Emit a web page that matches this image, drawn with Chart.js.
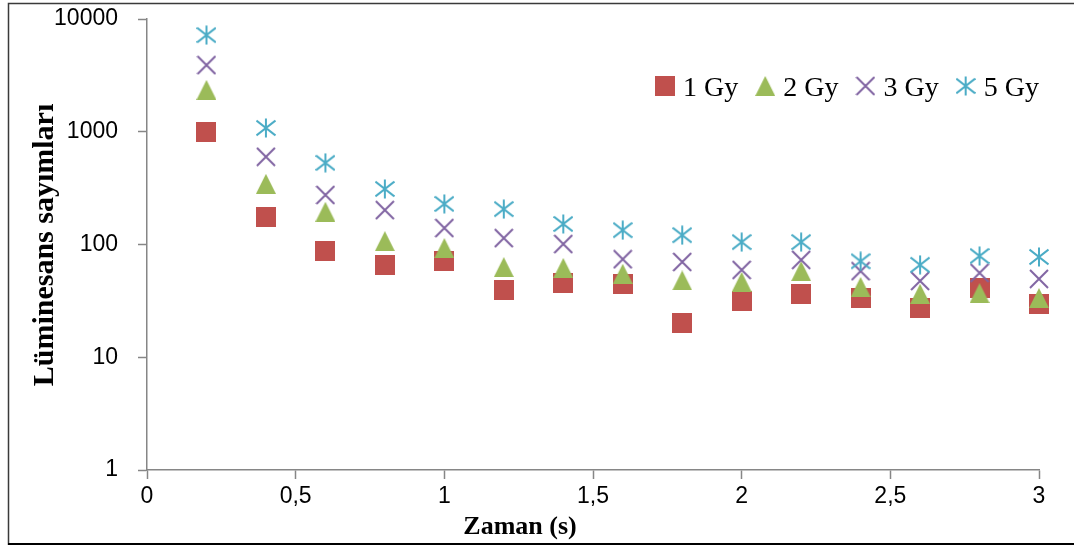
<!DOCTYPE html>
<html>
<head>
<meta charset="utf-8">
<title>Lüminesans sayımları</title>
<script src="https://cdn.jsdelivr.net/npm/chart.js@4/dist/chart.umd.min.js"></script>
<style>
  html, body { margin: 0; padding: 0; background: #fff; }
  #wrap { width: 1074px; height: 546px; position: relative; }
</style>
</head>
<body>
<div id="wrap"><canvas id="chart" width="1074" height="546"></canvas></div>
<script>
// Time (s) and counts per dose
const xValues = [0.2, 0.4, 0.6, 0.8, 1.0, 1.2, 1.4, 1.6, 1.8, 2.0, 2.2, 2.4, 2.6, 2.8, 3.0];
const gy1 = [1000, 175, 88, 66, 71, 39.5, 45.5, 44.5, 20, 31.5, 36.5, 33.5, 27.5, 41, 29.5];
const gy2 = [2350, 345, 195, 107, 93, 63, 62, 55, 48, 46.5, 58, 42, 36.5, 37, 33.5];
const gy3 = [3900, 600, 275, 202, 140, 114, 101, 74, 70, 59.5, 73, 58, 47.5, 56, 49.5];
const gy5 = [7200, 1080, 530, 311, 229, 206, 152, 134, 121, 105, 105, 71, 66, 79, 77.5];
const seriesLabels = ['1 Gy', '2 Gy', '3 Gy', '5 Gy'];
const yTicks = [1, 10, 100, 1000, 10000];
const xTickStep = 0.5;

const colors = ['#C0504D', '#9BBB59', '#8064A2', '#4BACC6'];
const axisColor = '#868686';

// marker sprites, used both on the plot and in the legend
function makeMarker(draw) {
  const c = document.createElement('canvas');
  c.width = 20;
  c.height = 20;
  draw(c.getContext('2d'));
  return c;
}

const squareMarker = makeMarker(ctx => {
  ctx.fillStyle = colors[0];
  ctx.fillRect(0, 0, 20, 20);
});

const triangleMarker = makeMarker(ctx => {
  ctx.fillStyle = colors[1];
  ctx.beginPath();
  ctx.moveTo(10, 0);
  ctx.lineTo(20, 20);
  ctx.lineTo(0, 20);
  ctx.closePath();
  ctx.fill();
});

const crossMarker = makeMarker(ctx => {
  ctx.strokeStyle = colors[2];
  ctx.lineWidth = 2;
  ctx.beginPath();
  ctx.moveTo(1, 1); ctx.lineTo(19, 19);
  ctx.moveTo(19, 1); ctx.lineTo(1, 19);
  ctx.stroke();
});

const starMarker = makeMarker(ctx => {
  ctx.strokeStyle = colors[3];
  ctx.lineWidth = 2;
  ctx.beginPath();
  ctx.moveTo(10, 0.5); ctx.lineTo(10, 19.5);
  ctx.moveTo(0.5, 2.5); ctx.lineTo(19.5, 17.5);
  ctx.moveTo(19.5, 2.5); ctx.lineTo(0.5, 17.5);
  ctx.stroke();
});

const markers = [squareMarker, triangleMarker, crossMarker, starMarker];
const series = [gy1, gy2, gy3, gy5];

function toPoints(values) {
  return values.map((v, i) => ({ x: xValues[i], y: v }));
}

// outer frame around the whole figure
const framePlugin = {
  id: 'frame',
  afterDraw(chart) {
    const ctx = chart.ctx;
    ctx.save();
    ctx.strokeStyle = '#3a3a3a';
    ctx.lineWidth = 1.5;
    ctx.beginPath();
    ctx.moveTo(8.5, 545);
    ctx.lineTo(8.5, 3.5);
    ctx.lineTo(1074, 3.5);
    ctx.stroke();
    ctx.strokeStyle = '#000';
    ctx.lineWidth = 2;
    ctx.beginPath();
    ctx.moveTo(8, 544);
    ctx.lineTo(1074, 544);
    ctx.stroke();
    ctx.restore();
  }
};

// axis titles
const titlesPlugin = {
  id: 'axisTitles',
  afterDraw(chart) {
    const ctx = chart.ctx;
    ctx.save();
    ctx.fillStyle = '#000';
    ctx.textAlign = 'center';
    ctx.textBaseline = 'middle';
    ctx.font = 'bold 26px "Liberation Serif", "Times New Roman", serif';
    ctx.fillText('Zaman (s)', 520, 527);
    ctx.translate(45, 245);
    ctx.rotate(-Math.PI / 2);
    ctx.font = 'bold 30px "Liberation Serif", "Times New Roman", serif';
    ctx.fillText('Lüminesans sayımları', 0, 0);
    ctx.restore();
  }
};

// legend drawn inside the plot, top right
const legendPlugin = {
  id: 'insideLegend',
  afterDraw(chart) {
    const ctx = chart.ctx;
    ctx.save();
    ctx.font = '28px "Liberation Serif", "Times New Roman", serif';
    ctx.fillStyle = '#000';
    ctx.textBaseline = 'alphabetic';
    let x = 655;
    const yMid = 86;
    chart.data.datasets.forEach((ds, i) => {
      ctx.drawImage(markers[i], x, yMid - 10);
      ctx.fillText(ds.label, x + 28, yMid + 10);
      x += 28 + ctx.measureText(ds.label).width + 17;
    });
    ctx.restore();
  }
};

new Chart(document.getElementById('chart'), {
  type: 'scatter',
  data: {
    datasets: series.map((vals, i) => ({
      label: seriesLabels[i],
      data: toPoints(vals),
      pointStyle: markers[i],
      pointRadius: 10,
      order: series.length - i,
      clip: false,
      showLine: false
    }))
  },
  options: {
    responsive: false,
    animation: false,
    events: [],
    layout: { padding: { left: 0, top: 19, right: 35, bottom: 0 } },
    plugins: {
      legend: { display: false },
      tooltip: { enabled: false }
    },
    scales: {
      x: {
        type: 'linear',
        min: 0,
        max: 3,
        afterFit(scale) { scale.height = 76; },
        border: { display: true, color: axisColor, width: 1.5 },
        grid: { drawOnChartArea: false, drawTicks: true, tickLength: 9, color: axisColor, tickWidth: 1.5 },
        ticks: {
          stepSize: xTickStep,
          padding: 4,
          color: '#000',
          font: { family: '"Liberation Sans", Arial, sans-serif', size: 23 },
          callback: v => String(v).replace('.', ',')
        }
      },
      y: {
        type: 'logarithmic',
        min: 1,
        max: 10000,
        afterFit(scale) {
          scale.width = 147;
          scale.paddingTop = 0;
          scale.paddingBottom = 0;
        },
        afterBuildTicks(scale) { scale.ticks = yTicks.map(v => ({ value: v })); },
        border: { display: true, color: axisColor, width: 1.5 },
        grid: { drawOnChartArea: false, drawTicks: true, tickLength: 9, color: axisColor, tickWidth: 1.5 },
        ticks: {
          padding: 20,
          color: '#000',
          font: { family: '"Liberation Sans", Arial, sans-serif', size: 23 },
          callback: v => String(v)
        }
      }
    }
  },
  plugins: [framePlugin, titlesPlugin, legendPlugin]
});
</script>
</body>
</html>
